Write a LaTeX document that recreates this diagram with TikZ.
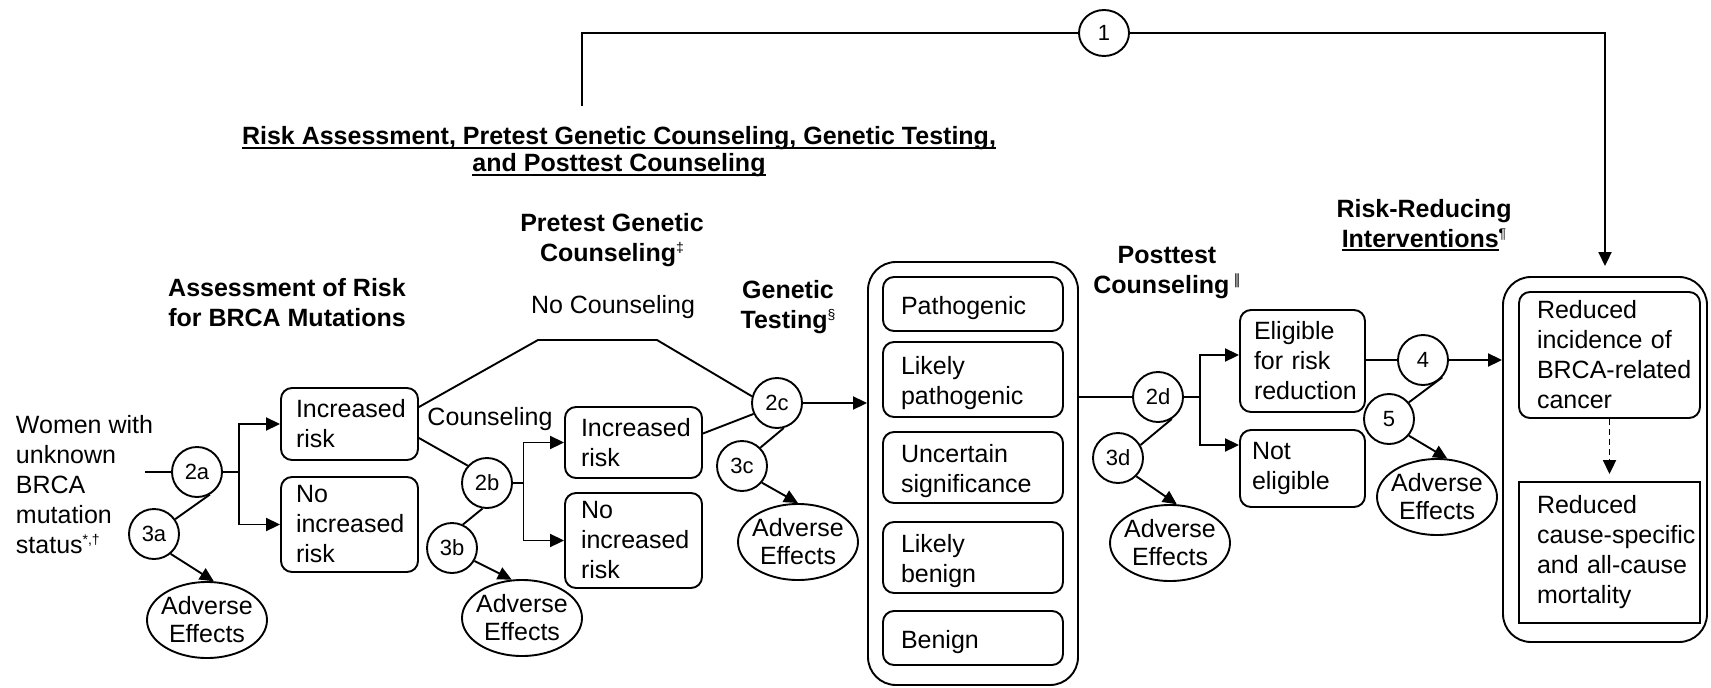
\documentclass[tikz,border=0pt]{standalone}
\usepackage{fontspec}
\usepackage{graphicx}
\setmainfont{Liberation Sans}
\newfontfamily\dvfont{DejaVu Sans}
\usetikzlibrary{arrows.meta,shapes.geometric}
\newcommand\zc[1]{\makebox[0pt]{#1}}
\newcommand\supm[1]{\raisebox{9pt}{\fontsize{14}{14}\selectfont\mdseries #1}}
\newcommand\thickul[1]{\begingroup\setbox0=\hbox{#1}\rlap{\rule[-4pt]{\wd0}{1.8pt}}\box0\endgroup}
\begin{document}
\begin{tikzpicture}[x=1pt,y=-1pt, line width=1.9pt,
 font=\fontsize{25}{30}\selectfont,
 arr/.style={-{Triangle[length=14pt,width=13pt]}},
 rbox/.style={draw, rounded corners=11pt, align=left, inner ysep=0pt},
 sbox/.style={draw, align=left, inner ysep=0pt},
 low/.style={execute at begin node={\rule{0pt}{26pt}}},
 num/.style={draw, circle, minimum size=50pt, inner sep=0pt, font=\fontsize{22}{22}\selectfont},
 adv/.style={draw, ellipse, minimum width=120pt, minimum height=76pt, inner sep=0pt, align=center, font=\fontsize{25}{28}\selectfont},
 head/.style={align=center, font=\bfseries\fontsize{25}{30}\selectfont},
 outer/.style={draw, rounded corners=28pt}
]
\useasboundingbox (0,0) rectangle (1711,688);

% title and top connector
\node[align=center, font=\bfseries\fontsize{25}{27}\selectfont] (title) at (619,152)
 {\thickul{Risk Assessment, Pretest Genetic Counseling, Genetic Testing,}\\\thickul{and Posttest Counseling}};
\node[draw, ellipse, minimum width=50pt, minimum height=46pt, inner sep=0pt, font=\fontsize{22}{22}\selectfont] (n1) at (1104,33) {1};
\coordinate (tstart) at (582,106);

% headings
\node[head] (h1) at (287,303) {Assessment of Risk\\for BRCA Mutations};
\node[head] (h2) at (612,240) {Pretest Genetic\\Counseling\supm{‡}};
\node (nocoun) at (613,307) {No Counseling};
\node[head] (h3) at (788,307) {Genetic\\Testing\supm{§}};
\node[head] (h4) at (1167,273) {Posttest\\Counseling\,\supm{\dvfont ‖}};
\node[head] (h5) at (1424,225) {Risk-Reducing\\\thickul{Interventions}\supm{¶}};
\node (coun) at (490,419) {Counseling};

% left part
\node[align=left, anchor=west, inner sep=0pt] (women) at (15,485) {Women with\\unknown\\BRCA\\mutation\\status\supm{*,†}};
\node[num] (n2a) at (197,472) {2a};
\node[num] (n3a) at (154,534) {3a};
\node[adv] (ada) at (207,620) {\zc{Adverse}\\\zc{Effects}};
\node[rbox, minimum width=137pt, minimum height=72pt, text width=107pt, inner xsep=15pt] (b1) at (349.5,424) {Increased\\risk};
\node[rbox, minimum width=137pt, minimum height=95pt, text width=107pt, inner xsep=15pt] (b2) at (349.5,524.5) {No\\increased\\risk};

\coordinate (nc1) at (538,340);
\coordinate (nc2) at (657,340);
\node[num] (n2b) at (487,483) {2b};
\node[num] (n3b) at (452,548) {3b};
\node[adv] (adb) at (522,618) {\zc{Adverse}\\\zc{Effects}};
\node[rbox, minimum width=137pt, minimum height=71pt, text width=105pt, inner xsep=16pt] (b3) at (633.5,442.5) {Increased\\risk};
\node[rbox, minimum width=137pt, minimum height=95pt, text width=105pt, inner xsep=16pt] (b4) at (633.5,540.5) {No\\increased\\risk};

\node[num] (n2c) at (777,403) {2c};
\node[num] (n3c) at (742,466) {3c};
\node[adv] (adc) at (798,542) {\zc{Adverse}\\\zc{Effects}};

% test results
\node[outer, minimum width=210pt, minimum height=423pt] (big) at (973,473.5) {};
\node[rbox, low, minimum width=180pt, minimum height=54pt, text width=144pt, inner xsep=18pt] (r1) at (973,304) {Pathogenic};
\node[rbox, low, minimum width=180pt, minimum height=75pt, text width=144pt, inner xsep=18pt] (r2) at (973,379.5) {Likely\\pathogenic};
\node[rbox, low, minimum width=180pt, minimum height=71pt, text width=144pt, inner xsep=18pt] (r3) at (973,467.5) {Uncertain\\significance};
\node[rbox, low, minimum width=180pt, minimum height=71pt, text width=144pt, inner xsep=18pt] (r4) at (973,557.5) {Likely\\benign};
\node[rbox, low, minimum width=180pt, minimum height=54pt, text width=144pt, inner xsep=18pt] (r5) at (973,638) {Benign};

% posttest
\node[num] (n2d) at (1158,397) {2d};
\node[num] (n3d) at (1118,458) {3d};
\node[adv] (add) at (1170,543) {\zc{Adverse}\\\zc{Effects}};
\node[rbox, minimum width=125pt, minimum height=102pt, text width=97pt, inner xsep=14pt] (elig) at (1302.5,361) {Eligible\\for risk\\reduction};
\node[rbox, minimum width=125pt, minimum height=77pt, text width=101pt, inner xsep=12pt] (noel) at (1302.5,468.5) {Not\\eligible};
\node[num] (n4) at (1423,360) {4};
\node[num] (n5) at (1389,419) {5};
\node[adv] (ad5) at (1437,497) {\zc{Adverse}\\\zc{Effects}};

% outcomes
\node[outer, minimum width=204pt, minimum height=365pt] (rbig) at (1605,459.5) {};
\node[rbox, minimum width=181pt, minimum height=126pt, text width=145pt, inner xsep=18pt] (i1) at (1609.5,355) {Reduced\\\mbox{incidence of}\\\mbox{BRCA-related}\\cancer};
\node[sbox, minimum width=181pt, minimum height=141pt, text width=145pt, inner xsep=18pt] (i2) at (1609.5,552.5) {Reduced\\\mbox{cause-specific}\\\mbox{and all-cause}\\mortality};

% connectors
\draw (tstart) |- (n1.west);
\draw[arr, shorten >=10pt] (n1.east) -| (rbig.north);

\draw (n2a.west) -- ++(-26,0);
\draw[arr] (n2a.east) -- ++(16,0) coordinate (ja) |- (b1.west);
\draw[arr] (ja) |- (b2.west);
\draw (n2a.-60) -- (n3a.35);
\draw[arr] (n3a.-50) -- (ada.80);

\draw ([yshift=17pt]b1.east) -- (nc1) -- (nc2) -- (n2c.165);
\draw ([yshift=-14pt]b1.east) -- (n2b.138);
\draw[arr] (n2b.east) -- ++(10.5,0) coordinate (jb) |- (b3.west);
\draw[arr] (jb) |- (b4.west);
\draw (n2b.-100) -- (n3b.65);
\draw[arr] (n3b.-30) -- (adb.105);

\draw ([yshift=9pt]b3.east) -- (n2c.205);
\draw[arr] (n2c.east) -- (n2c.east -| big.west);
\draw (n2c.-75) -- (n3c.45);
\draw[arr] (n3c.-40) -- (adc.north);

\draw (n2d.west -| big.east) -- (n2d.west);
\draw[arr] (n2d.east) -- ++(16,0) coordinate (jd) |- ([yshift=6pt]elig.west);
\draw[arr] (jd) |- ([yshift=23.5pt]noel.west);
\draw (n2d.-58) -- (n3d.30);
\draw[arr] (n3d.-45) -- (add.80);

\draw (n4.west -| elig.east) -- (n4.west);
\draw[arr] (n4.east) -- (n4.east -| rbig.west);
\draw (n4.-42) -- (n5.40);
\draw[arr] (n5.-40) -- (ad5.75);

\draw[arr, dash pattern=on 6pt off 4pt, shorten >=7pt] (i1.south) -- (i2.north);
\end{tikzpicture}
\end{document}
